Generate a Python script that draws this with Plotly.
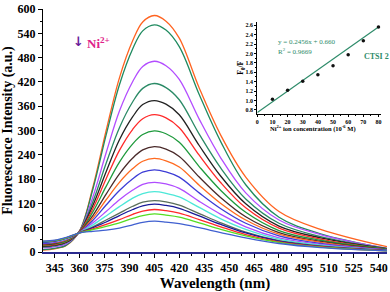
import plotly.graph_objects as go

# ---------------- data ----------------
wavelength = [338, 345, 352, 360, 368, 376, 384, 392, 398, 405, 412, 420, 432, 445, 460, 480, 505, 545]

s01 = [5, 8, 16, 52, 160, 300, 430, 522, 568, 584, 570, 528, 405, 288, 185, 100, 56, 13]
s02 = [6, 9, 17, 52, 155, 289, 413, 502, 546, 561, 548, 507, 389, 272, 166, 86, 45, 9]
s03 = [10, 13, 20, 51, 136, 245, 348, 421, 458, 471, 460, 426, 328, 232, 146, 79, 43, 9]
s04 = [12, 15, 23, 50, 124, 219, 307, 371, 404, 416, 406, 376, 291, 207, 131, 71, 38, 8]
s05 = [14, 17, 24, 50, 115, 198, 277, 334, 364, 374, 365, 339, 263, 187, 119, 64, 35, 8]
s06 = [16, 18, 26, 50, 107, 181, 251, 303, 329, 339, 331, 307, 239, 171, 109, 59, 32, 7]
s07 = [17, 20, 27, 49, 99, 162, 222, 267, 290, 299, 292, 271, 211, 152, 98, 53, 29, 7]
s08 = [19, 21, 29, 49, 90, 143, 193, 232, 252, 260, 254, 236, 185, 134, 87, 48, 26, 6]
s09 = [20, 23, 30, 49, 84, 129, 172, 206, 224, 231, 225, 210, 165, 120, 79, 44, 24, 5]
s10 = [21, 24, 31, 48, 78, 116, 152, 181, 197, 203, 198, 185, 146, 107, 71, 40, 21, 5]
s11 = [23, 25, 32, 48, 72, 100, 129, 153, 167, 172, 168, 157, 125, 93, 62, 35, 19, 5]
s12 = [24, 26, 33, 48, 67, 89, 112, 133, 144, 149, 145, 136, 110, 82, 56, 32, 17, 4]
s13 = [25, 27, 34, 48, 62, 79, 96, 113, 123, 127, 124, 116, 95, 72, 49, 28, 15, 4]
s14 = [25, 27, 34, 47, 60, 74, 90, 105, 114, 118, 115, 108, 89, 68, 47, 27, 14, 4]
s15 = [26, 28, 35, 47, 57, 68, 80, 93, 101, 105, 102, 96, 80, 62, 43, 25, 13, 3]
s16 = [26, 28, 35, 47, 55, 63, 72, 83, 90, 94, 91, 86, 72, 56, 40, 24, 12, 3]
s17 = [27, 29, 36, 47, 51, 54, 59, 67, 73, 76, 74, 70, 60, 48, 35, 21, 11, 3]

series = [s01, s02, s03, s04, s05, s06, s07, s08, s09, s10, s11, s12, s13, s14, s15, s16, s17]
colors = ["#ff6320", "#1f8a5f", "#b34dff", "#2a8a66", "#222222", "#ff2a2a", "#1e9a3c",
          "#4a2a2a", "#ff6a20", "#3d3dd6", "#b04cff", "#4de8d8", "#5a6e5a", "#1a1a99",
          "#ff2a2a", "#55dd22", "#4060d0"]

# inset: Stern-Volmer
conc = [10, 20, 30, 40, 50, 60, 70, 80]
f0_over_f = [1.03, 1.22, 1.41, 1.55, 1.74, 1.97, 2.27, 2.56]
FIT_SLOPE = 0.0227
FIT_INTERCEPT = 0.745
fit_x = [0, 80]

x_ticks = list(range(345, 541, 15))
y_ticks = list(range(0, 601, 60))
inset_xticks = list(range(0, 81, 10))
inset_yticks = [0.8, 1.0, 1.2, 1.4, 1.6, 1.8, 2.0, 2.2, 2.4, 2.6]

# ---------------- figure ----------------
SERIF = "Liberation Serif"
fig = go.Figure()
for ys, c in zip(series, colors):
    fig.add_trace(go.Scatter(x=wavelength, y=ys, mode="lines",
                             line=dict(color=c, width=1.3, shape="spline", smoothing=1.0),
                             showlegend=False, hoverinfo="skip"))

fig.add_trace(go.Scatter(x=fit_x, y=[FIT_INTERCEPT + FIT_SLOPE * v for v in fit_x],
                         mode="lines", line=dict(color="#2e8b6a", width=1.2),
                         xaxis="x2", yaxis="y2", showlegend=False))
fig.add_trace(go.Scatter(x=conc, y=f0_over_f, mode="markers",
                         marker=dict(color="#111111", size=3.5),
                         xaxis="x2", yaxis="y2", showlegend=False))

fig.update_layout(
    width=390, height=292,
    margin=dict(l=43, r=2, t=5, b=39),
    paper_bgcolor="white", plot_bgcolor="white",
    font=dict(family=SERIF, color="black"),
    xaxis=dict(range=[338, 545], tickvals=x_ticks, ticks="outside", ticklen=4,
               tickwidth=1, tickcolor="black", showgrid=False, zeroline=False,
               showline=True, linecolor="#2b2b8f", linewidth=1.5,
               ticklabeloverflow="allow",
               tickfont=dict(size=12, family=SERIF, color="black", weight="bold"),
               minor=dict(dtick=7.5, tick0=345, ticks="outside", ticklen=2, tickcolor="black"),
               title=dict(text="<b>Wavelength (nm)</b>", font=dict(size=15, family=SERIF),
                          standoff=4)),
    yaxis=dict(range=[0, 600], tickvals=y_ticks, ticks="outside", ticklen=4,
               tickwidth=1, tickcolor="black", showgrid=False, zeroline=False,
               showline=True, linecolor="black", linewidth=1.2,
               ticklabeloverflow="allow",
               tickfont=dict(size=12, family=SERIF, color="black", weight="bold"),
               minor=dict(dtick=30, tick0=0, ticks="outside", ticklen=2, tickcolor="black"),
               title=dict(text="<b>Fluorescence Intensity (a.u.)</b>",
                          font=dict(size=14, family=SERIF), standoff=3)),
    xaxis2=dict(domain=[0.623, 0.984], anchor="y2", range=[0, 82],
                tickvals=inset_xticks, ticks="outside", ticklen=2, tickcolor="black",
                showgrid=False, zeroline=False, showline=True, linecolor="black",
                linewidth=1, tickfont=dict(size=6, family=SERIF, weight="bold"),
                minor=dict(dtick=5, ticks="outside", ticklen=1, tickcolor="black")),
    yaxis2=dict(domain=[0.569, 0.945], anchor="x2", range=[0.72, 2.66],
                tickvals=inset_yticks, tickformat=".1f", ticks="outside", ticklen=2,
                tickcolor="black", showgrid=False, zeroline=False, showline=True,
                linecolor="black", linewidth=1,
                tickfont=dict(size=6, family=SERIF, weight="bold"),
                minor=dict(dtick=0.1, ticks="outside", ticklen=1, tickcolor="black")),
)

ann = [
    dict(x=0.104, y=0.866, text="<b>↓</b>", font=dict(size=13, color="#6a1b9a", family="DejaVu Sans")),
    dict(x=0.122, y=0.862, text="<b>Ni<sup>2+</sup></b>", xanchor="left",
         font=dict(size=13, color="#e0218a", family=SERIF)),
    dict(x=0.678, y=0.864, text="y = 0.2456x + 0.660", xanchor="left",
         font=dict(size=7, color="#2e8b6a", family=SERIF)),
    dict(x=0.678, y=0.825, text="R<sup>2</sup> = 0.9669", xanchor="left",
         font=dict(size=7, color="#2e8b6a", family=SERIF)),
    dict(x=0.928, y=0.806, text="<b>CTSI 2</b>", xanchor="left",
         font=dict(size=8, color="#2e8b6a", family=SERIF)),
    dict(x=0.785, y=0.51, text="<b>Ni<sup>2+</sup> ion concentration (10<sup>-6</sup> M)</b>",
         font=dict(size=6.5, color="black", family=SERIF)),
    dict(x=0.577, y=0.76, text="<b>F<sub>0</sub>/F</b>", textangle=-90,
         font=dict(size=7.5, color="black", family=SERIF)),
]
for a in ann:
    a.setdefault("xanchor", "center")
    fig.add_annotation(xref="paper", yref="paper", showarrow=False, yanchor="middle", **a)

fig.write_html("out.html", config={"displayModeBar": False},
               post_script="document.body.style.margin='0';")
